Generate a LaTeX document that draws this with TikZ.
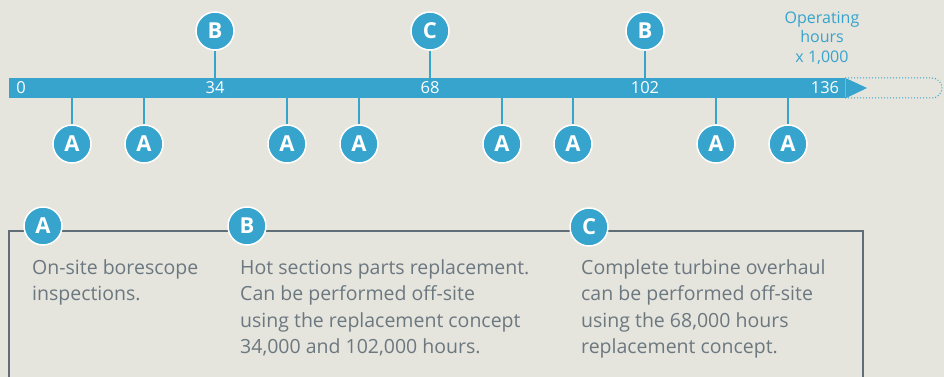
\documentclass[tikz,border=0pt]{standalone}
\usepackage{fontspec}
\setmainfont{Open Sans}
\usetikzlibrary{positioning}
\definecolor{bgcol}{HTML}{E5E4DD}
\definecolor{tlblue}{HTML}{36A4CD}
\definecolor{boxgray}{HTML}{5F6E77}
\definecolor{txtgray}{HTML}{6C7880}
\tikzset{
  badge/.style={circle, fill=tlblue, draw=white, line width=1.5pt, text=white,
    minimum size=38pt, inner sep=0pt, font=\fontsize{22}{22}\selectfont\bfseries},
  stem/.style={tlblue, line width=2pt},
  ticklabel/.style={text=white, font=\fontsize{16.5}{16.5}\selectfont},
  desc/.style={text=txtgray, align=left, anchor=north west, inner sep=0pt,
    font=\fontsize{19.5}{26.5}\selectfont}
}
\begin{document}
\begin{tikzpicture}[x=1pt, y=-1pt]
  % Background and size
  \fill[bgcol] (0,0) rectangle (944,377);
  \useasboundingbox (0,0) rectangle (944,377);

  % The time line
  \draw[tlblue, dotted, line width=1pt, rounded corners=10pt] (845,78) -- (942,78) -- (942,98) -- (845,98);
  \node[fill=tlblue, minimum width=836pt, minimum height=20pt, inner sep=0pt, anchor=north west] (bar) at (9,78) {};
  \fill[tlblue] (bar.north east) -- (867,88) -- (bar.south east) -- cycle;

  % Tick labels
  \node[ticklabel] (t0) at (21,88) {0};
  \node[ticklabel] (t34) at (215,88) {34};
  \node[ticklabel] (t68) at (430,88) {68};
  \node[ticklabel] (t102) at (645,88) {102};
  \node[ticklabel] (t136) at (825,88) {136};
  \node[text=tlblue, align=center, font=\fontsize{16}{19.5}\selectfont] (unit) at (822,38) {Operating\\hours\\x 1,000};

  % Events above the line
  \node[badge] (B1) at (215,31) {B};
  \node[badge] (C1) at (430,31) {C};
  \node[badge] (B2) at (645,31) {B};
  \foreach \n in {B1, C1, B2}
    \draw[stem] (\n.south) -- (\n.south |- bar.north);

  % Events below the line
  \foreach \n/\x in {1/72, 2/144, 3/287, 4/359, 5/502, 6/573, 7/716, 8/788} {
    \node[badge] (A\n) at (\x,144) {A};
    \draw[stem] (A\n.north) -- (A\n.north |- bar.south);
  }

  % Legend box
  \draw[boxgray, line width=1.5pt] (9,377) -- (9,231) -- (863,231) -- (863,377);
  \node[badge] (keyA) at (43,226) {A};
  \node[badge] (keyB) at (247,226) {B};
  \node[badge] (keyC) at (589,227) {C};

  \node[desc] (textA) at (32,259) {On-site borescope\\inspections.};
  \node[desc] (textB) at (240,259) {Hot sections parts replacement.\\Can be performed off-site\\using the replacement concept\\34,000 and 102,000 hours.};
  \node[desc] (textC) at (581,259) {Complete turbine overhaul\\can be performed off-site\\using the 68,000 hours\\replacement concept.};
\end{tikzpicture}
\end{document}
